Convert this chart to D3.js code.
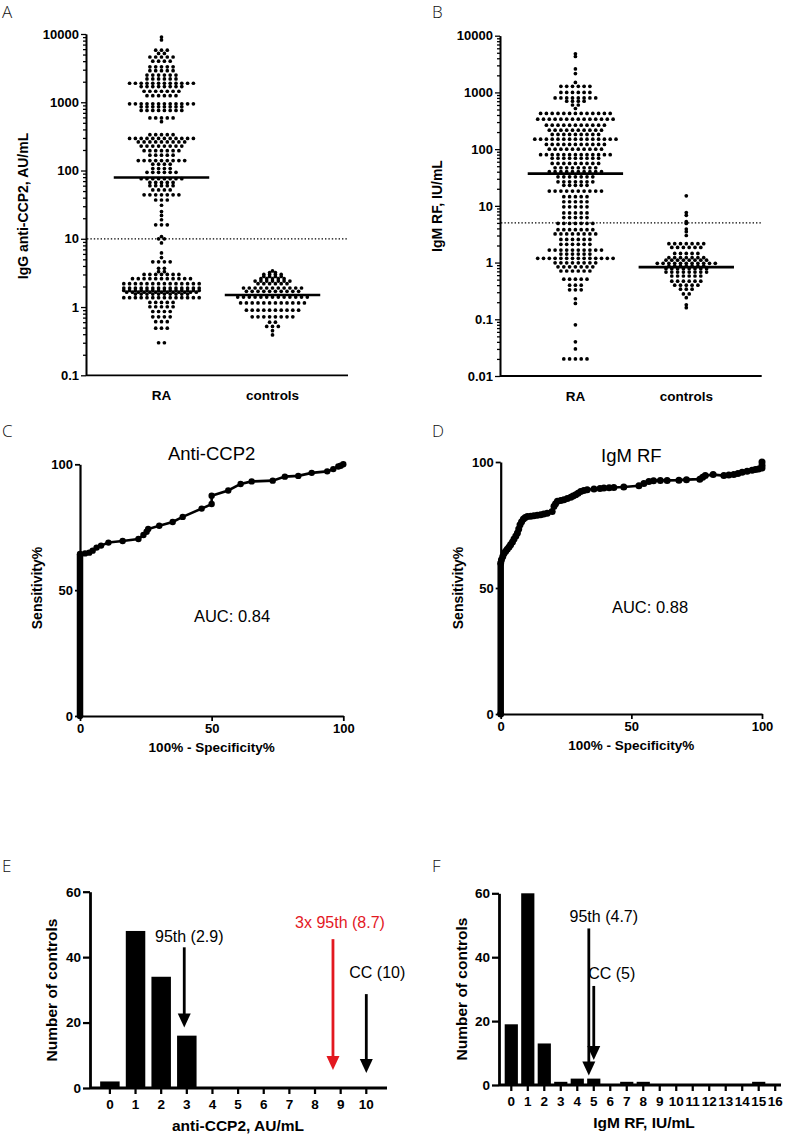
<!DOCTYPE html>
<html><head><meta charset="utf-8">
<script src="https://cdn.jsdelivr.net/npm/d3@7"></script>
<style>
body{margin:0;background:#fff}
svg text{font-family:"Liberation Sans",Arial,sans-serif}
.ax text{font-weight:bold;font-size:13px;fill:#000}
.ax path,.ax line{stroke:#000}
</style>
</head><body><svg id="c" width="788" height="1137"></svg>
<script>
// ---------------- DATA ----------------
const groups = ["RA", "controls"];
// swarm rows: [value, number of dots in that row]
const ccp2RA = [[9000,1],[8200,1],[5800,3],[5200,2],[4600,5],[4000,4],[3300,5],[2900,5],[2500,6],[2200,6],[1900,12],[1700,8],[1450,7],[1250,6],[950,12],[860,8],[760,8],[590,5],[520,1],
 [335,5],[295,12],[262,9],[228,8],[195,7],[168,5],[140,9],[124,4],[107,4],[94,6],[76,8],[67,5],[60,5],[52,4],[44,7],[37,3],[31,1],[25,1],[22,1],[19,1],[16,3],
 [10.8,1],[10,2],[8.7,1],[6.2,1],[5.3,1],[4.6,4],[3.7,2],[3.3,2],[3.0,7],[2.6,11],[2.2,14],[1.9,14],[1.75,14],[1.65,13],[1.55,10],[1.37,14],[1.17,5],[1.01,5],[0.86,4],[0.72,4],[0.61,3],[0.49,3],[0.30,2]];
const ccp2Ctrl = [[3.38,1],[3.2,2],[3.0,4],[2.8,4],[2.6,5],[2.4,7],[2.2,6],[1.9,11],[1.7,10],[1.4,13],[1.15,12],[0.9,10],[0.72,8],[0.6,2],[0.52,3],[0.45,1],[0.39,1]];
const rfRA = [[4800,1],[4300,1],[2600,1],[2150,1],[1500,1],[1280,6],[1000,6],[800,8],[700,4],[600,2],[520,1],
 [426,13],[338,14],[265,11],[216,10],[182,9],[150,15],[121,11],[100,10],[80,13],[69,9],[56,9],[47,8],[40,10],[32.5,7],[26.5,7],[23,5],[18.2,10],[14.5,5],
 [11.8,5],[9.6,5],[7.5,5],[6.2,5],[4.9,7],[3.8,7],[3.2,8],[2.56,6],[2.1,6],[1.66,10],[1.41,6],[1.19,14],[0.99,8],[0.84,7],[0.71,6],[0.51,5],[0.40,3],[0.33,3],[0.23,1],[0.19,1],[0.08,1],[0.04,1],[0.03,1],[0.02,5]];
const rfCtrl = [[15,1],[7.6,1],[6.8,1],[5.3,1],[4.9,1],[3.9,1],[3.5,1],[3.0,1],[2.15,7],[1.85,6],[1.45,5],[1.22,7],[1.1,8],[0.97,11],[0.87,7],[0.78,8],[0.68,8],[0.58,6],[0.47,6],[0.40,5],[0.34,3],[0.28,2],[0.24,1],[0.18,1],[0.16,1]];
const ccp2Medians = [79, 1.5];
const rfMedians = [37, 0.83];
const ccp2Cutoff = 10;
const rfCutoff = 5;
const logTicksA = [0.1, 1, 10, 100, 1000, 10000];
const logTicksB = [0.01, 0.1, 1, 10, 100, 1000, 10000];

// ROC points: [100% - specificity%, sensitivity%]
const rocCCP2 = [[0,0],[0,64.4],[1.9,64.6],[3.5,64.9],[4.8,65.7],[6.3,66.9],[8.0,67.7],[10.8,68.9],[16.2,69.5],[22.2,70.3],[24.1,71.9],[25.3,73.2],[25.9,74.3],[30.1,75.6],[35.2,77.1],[39.0,79.1],[46.2,82.4],[50,84.2],[50,87.5],[56.3,89.6],[61,92.2],[65.2,93.2],[73.2,93.5],[77.8,95.1],[82.9,95.4],[88,96.6],[93.9,97.2],[96.2,98.1],[98.1,99.1],[99,99.4],[100,100]];
const rocRF = [[0,0],[0,59.9],[0.3,61.2],[0.8,62.5],[1.3,63.8],[1.9,64.6],[2.5,65.4],[3.2,66.3],[3.8,67.2],[4.5,68.3],[5.1,69.4],[5.8,70.6],[6.4,71.8],[6.9,73.4],[7.4,75.1],[8.0,76.3],[8.7,77.4],[9.4,78.0],[10.2,78.4],[11.5,78.5],[12.7,78.7],[14,78.9],[15.3,79.1],[16.5,79.4],[17.8,79.7],[19.7,80.4],[20.4,82.4],[21,83.4],[21.7,84.4],[23,84.7],[24.2,85],[25.5,85.5],[26.8,86],[27.7,86.5],[28.7,87],[29.6,87.6],[30.6,88.3],[31.8,88.7],[33.1,89],[35.7,89.3],[38,89.5],[39.5,89.7],[41.5,89.8],[43.3,89.9],[47.1,90.1],[52.9,90.6],[54.8,91.5],[56.7,92.3],[58.5,92.6],[61.1,92.7],[63.7,92.7],[68.2,92.8],[71.1,93.0],[76.2,93.2],[77.3,93.9],[78.3,94.6],[81.3,95.0],[85.4,94.6],[87.3,94.8],[89.2,95.0],[90.8,95.4],[92.4,95.9],[94.3,96.3],[96.2,96.7],[97.5,97.0],[98.7,97.2],[100,97.6],[100,98.7],[100,100]];
const rocTicks = [0, 50, 100];
const aucCCP2 = "AUC: 0.84";
const aucRF = "AUC: 0.88";

// histograms of controls
const binsCCP2 = [0,1,2,3,4,5,6,7,8,9,10];
const countsCCP2 = [2,48,34,16,0,0,0,0,0,0,0];
const binsRF = [0,1,2,3,4,5,6,7,8,9,10,11,12,13,14,15,16];
const countsRF = [19,60,13,1,2,2,0,1,1,0,0,0,0,0,0,1,0];
const histTicks = [0, 20, 40, 60];
// arrows: x value, arrow top and tip (count units)
const arrowsCCP2 = [
  {label:"95th (2.9)", x:2.9, top:43, tip:18.5, color:"#000", dx:5, dy:-5},
  {label:"3x 95th (8.7)", x:8.7, top:45.5, tip:5.5, color:"#e3181f", dx:7, dy:-11},
  {label:"CC (10)", x:10, top:28.7, tip:4.6, color:"#000", dx:11, dy:-16}
];
const arrowsRF = [
  {label:"95th (4.7)", x:4.7, top:49, tip:3, color:"#000", dx:15, dy:-6},
  {label:"CC (5)", x:5, top:31, tip:7.8, color:"#000", dx:18, dy:-7}
];

// ---------------- DRAWING ----------------
const svg = d3.select("#c");

function letter(t, x, y) {
  svg.append("text").attr("x", x).attr("y", y).text(t)
    .style("font-family", "'Open Sans',sans-serif").style("font-size", "17px").style("font-weight", 300).attr("fill", "#111");
}
function yTitle(t, x, y, size) {
  svg.append("text").attr("transform", `translate(${x},${y}) rotate(-90)`)
    .attr("text-anchor", "middle").style("font-weight", "bold").style("font-size", size + "px").text(t);
}
function styleAxis(g, w) {
  g.attr("class", "ax");
  g.select(".domain").attr("stroke-width", w);
  g.selectAll(".tick line").attr("stroke-width", w * 0.8);
}

// ---------- Swarm panels ----------
function swarmPanel(o) {
  const y = d3.scaleLog().domain(o.domain).range([o.y0, o.y1]);
  const x = d3.scaleBand().domain(groups).range([o.x0, o.x1]).paddingOuter(0.18);
  const minor = [];
  for (let d = o.domain[0]; d < o.domain[1] * 0.99; d *= 10) for (let k = 2; k <= 9; k++) minor.push(d * k);
  const gm = svg.append("g").attr("transform", `translate(${o.x0},0)`)
    .call(d3.axisLeft(y).tickValues(minor).tickFormat("").tickSize(3).tickSizeOuter(0));
  styleAxis(gm, 1.6);
  const ga = svg.append("g").attr("transform", `translate(${o.x0},0)`)
    .call(d3.axisLeft(y).tickValues(o.ticks).tickFormat(d3.format("~g")).tickSize(5).tickSizeOuter(0).tickPadding(2));
  styleAxis(ga, 1.6);
  svg.append("line").attr("x1", o.x0).attr("x2", o.x1).attr("y1", o.y0).attr("y2", o.y0)
    .attr("stroke", "#000").attr("stroke-width", 1.8);
  groups.forEach(gn => {
    svg.append("text").attr("x", x(gn) + x.bandwidth() / 2).attr("y", o.y0 + 25).attr("text-anchor", "middle")
      .style("font-weight", "bold").style("font-size", "13.5px").text(gn);
  });
  svg.append("line").attr("x1", o.x0 + 1).attr("x2", o.x1).attr("y1", y(o.cutoff)).attr("y2", y(o.cutoff))
    .attr("stroke", "#000").attr("stroke-width", 1.3).attr("stroke-dasharray", "1.4,2");
  const sp = 5.8;
  [o.ra, o.ctrl].forEach((rows, gi) => {
    const cx = x(groups[gi]) + x.bandwidth() / 2;
    const pts = [];
    rows.forEach(([v, n]) => { for (let i = 0; i < n; i++) pts.push({v, off: (i - (n - 1) / 2) * sp, cx}); });
    svg.append("g").selectAll("circle").data(pts).join("circle")
      .attr("cx", d => d.cx + d.off).attr("cy", d => y(d.v)).attr("r", 1.85).attr("fill", "#000");
  });
  o.medians.forEach((m, gi) => {
    const cx = x(groups[gi]) + x.bandwidth() / 2;
    const hw = x.bandwidth() * 0.43;
    svg.append("line").attr("x1", cx - hw).attr("x2", cx + hw).attr("y1", y(m)).attr("y2", y(m))
      .attr("stroke", "#000").attr("stroke-width", 2.6);
  });
}

swarmPanel({domain:[0.1,10000], y0:375.3, y1:34, x0:86, x1:348, ticks:logTicksA, ra:ccp2RA, ctrl:ccp2Ctrl, medians:ccp2Medians, cutoff:ccp2Cutoff});
swarmPanel({domain:[0.01,10000], y0:376, y1:35.7, x0:500, x1:761.7, ticks:logTicksB, ra:rfRA, ctrl:rfCtrl, medians:rfMedians, cutoff:rfCutoff});
letter("A", 2, 18); letter("B", 432, 18);
yTitle("IgG anti-CCP2, AU/mL", 27.5, 206, 14);
yTitle("IgM RF, IU/mL", 442, 206, 14);

// ---------- ROC panels ----------
function rocPanel(o) {
  const x = d3.scaleLinear().domain([0, 100]).range([o.x0, o.x1]);
  const y = d3.scaleLinear().domain([0, 100]).range([o.y0, o.y1]);
  const gx = svg.append("g").attr("transform", `translate(0,${o.y0})`)
    .call(d3.axisBottom(x).tickValues(rocTicks).tickSize(5).tickSizeOuter(0).tickPadding(3));
  styleAxis(gx, 2.2);
  const gy = svg.append("g").attr("transform", `translate(${o.x0},0)`)
    .call(d3.axisLeft(y).tickValues(rocTicks).tickSize(5).tickSizeOuter(0).tickPadding(2));
  styleAxis(gy, 2.2);
  const vert = o.data.filter(d => d[0] === 0);
  svg.append("line").attr("x1", x(0)).attr("x2", x(0)).attr("y1", y(d3.min(vert, d => d[1]))).attr("y2", y(d3.max(vert, d => d[1])))
    .attr("stroke", "#000").attr("stroke-width", 6.5);
  svg.append("path").datum(o.data).attr("fill", "none").attr("stroke", "#000").attr("stroke-width", 2.6)
    .attr("d", d3.line().x(d => x(d[0])).y(d => y(d[1])));
  svg.append("g").selectAll("circle").data(o.data).join("circle")
    .attr("cx", d => x(d[0])).attr("cy", d => y(d[1])).attr("r", o.r).attr("fill", "#000");
  svg.append("text").attr("x", (o.x0 + o.x1) / 2).attr("y", o.titleY).attr("text-anchor", "middle")
    .style("font-size", "18.5px").text(o.title);
  svg.append("text").attr("x", o.aucX).attr("y", o.aucY).attr("text-anchor", "middle")
    .style("font-size", "16.5px").text(o.auc);
  svg.append("text").attr("x", (o.x0 + o.x1) / 2).attr("y", o.y0 + 36).attr("text-anchor", "middle")
    .style("font-weight", "bold").style("font-size", "13.5px").text("100% - Specificity%");
}
rocPanel({x0:80, x1:343.3, y0:716, y1:464.3, data:rocCCP2, r:3.2, title:"Anti-CCP2", titleY:460, auc:aucCCP2, aucX:232, aucY:621.5});
rocPanel({x0:500.7, x1:762, y0:714, y1:462, data:rocRF, r:3.5, title:"IgM RF", titleY:461.5, auc:aucRF, aucX:650, aucY:612.5});
letter("C", 2, 437); letter("D", 432, 437);
yTitle("Sensitivity%", 42, 588, 14);
yTitle("Sensitivity%", 462.5, 588, 14);

// ---------- Histogram panels ----------
function histPanel(o) {
  const xb = d3.scaleBand().domain(o.bins).range([o.b0, o.b1]).padding(o.pad);
  const step = xb.step();
  const c0 = xb(o.bins[0]) + xb.bandwidth() / 2;
  const xv = d3.scaleLinear().domain([0, 1]).range([c0, c0 + step]);
  const y = d3.scaleLinear().domain([0, 60]).range([o.y0, o.y1]);
  svg.append("g").selectAll("rect").data(o.bins.map((b, i) => ({b, c: o.counts[i]}))).join("rect")
    .attr("x", d => xb(d.b)).attr("width", xb.bandwidth())
    .attr("y", d => y(d.c)).attr("height", d => y(0) - y(d.c)).attr("fill", "#000");
  const gy = svg.append("g").attr("transform", `translate(${o.ax0},0)`)
    .call(d3.axisLeft(y).tickValues(histTicks).tickSize(7).tickSizeOuter(0).tickPadding(2));
  styleAxis(gy, 2.8);
  gy.selectAll("text").style("font-size", "13.5px");
  const gx = svg.append("g").attr("transform", `translate(0,${o.y0})`)
    .call(d3.axisBottom(xb).tickSize(6).tickSizeOuter(0).tickPadding(5));
  styleAxis(gx, 2.8);
  gx.select(".domain").attr("d", `M${o.ax0},0H${o.ax1}`);
  gx.selectAll("text").style("font-size", o.tickFont + "px");
  o.arrows.forEach(a => {
    const ax = xv(a.x);
    const ht = y(a.tip), hh = 14, hw = 6.5;
    svg.append("line").attr("x1", ax).attr("x2", ax).attr("y1", y(a.top)).attr("y2", ht - hh + 2)
      .attr("stroke", a.color).attr("stroke-width", 2.8);
    svg.append("path").attr("d", `M${ax - hw},${ht - hh}L${ax + hw},${ht - hh}L${ax},${ht}Z`).attr("fill", a.color);
    svg.append("text").attr("x", ax + a.dx).attr("y", y(a.top) + a.dy).attr("text-anchor", "middle")
      .style("font-size", "16px").attr("fill", a.color).text(a.label);
  });
  svg.append("text").attr("x", o.titleX).attr("y", o.titleY).attr("text-anchor", "middle")
    .style("font-weight", "bold").style("font-size", "15.5px").text(o.title);
}
histPanel({bins:binsCCP2, counts:countsCCP2, b0:94, b1:382.2, pad:0.24, ax0:90, ax1:387, y0:1088, y1:891.7, arrows:arrowsCCP2, tickFont:13.5, title:"anti-CCP2, AU/mL", titleX:238, titleY:1131});
histPanel({bins:binsRF, counts:countsRF, b0:501.4, b1:785.1, pad:0.2, ax0:499, ax1:781, y0:1085, y1:893.3, arrows:arrowsRF, tickFont:13.5, title:"IgM RF, IU/mL", titleX:644, titleY:1128});
letter("E", 2, 872); letter("F", 432, 872);
yTitle("Number of controls", 56.5, 990, 15.5);
yTitle("Number of controls", 466.5, 989, 15.5);
</script></body></html>
